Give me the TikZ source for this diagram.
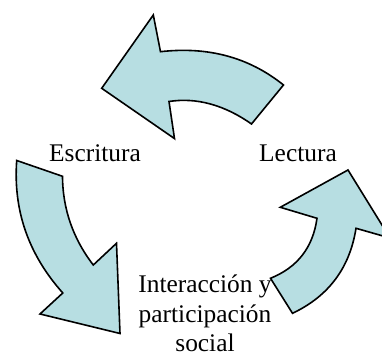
\documentclass[tikz,border=0pt]{standalone}
\usepackage{fontspec}
\setmainfont{Liberation Serif}
\definecolor{cyclefill}{RGB}{183,222,226}

\begin{document}
\begin{tikzpicture}[
    x=0.5pt, y=-0.5pt,
    cyclearrow/.style={draw=black, fill=cyclefill, line width=0.8pt, line join=miter},
    stagetext/.style={align=center, inner sep=0pt, font=\fontsize{12.7}{14.8}\selectfont},
    ]
    \useasboundingbox (0,0) rectangle (382,356);
    \clip (0,0) rectangle (382,356);

    % Arrows
    \path[cyclearrow] (283.5,85) .. controls (249,57.3) and (208,46.3) .. (160.5,51.7)
        -- (153.3,15) -- (101.7,88.3) -- (174.5,138.6) -- (169,101.5)
        .. controls (196.3,97.3) and (224,104.7) .. (251.5,124) -- cycle;
    \path[cyclearrow] (16.7,160.5) .. controls (13.1,210.5) and (28.4,254.4) .. (62.8,293)
        -- (40,314) -- (120,333.5) -- (116.5,243.3) -- (93.3,265)
        .. controls (73,238.7) and (62.7,208.9) .. (62.5,176.3) -- cycle;
    \path[cyclearrow] (270.5,278.3) -- (292.5,313.3)
        .. controls (328.7,296.2) and (349.8,267.8) .. (356,228.3)
        -- (390,238) -- (348,170) -- (280.3,207.3) -- (317,218.3)
        .. controls (313,247.4) and (297.5,267.4) .. cycle;

    % Labels
    \node (ESC) [stagetext, anchor=base] at (95,162) {Escritura};
    \node (LEC) [stagetext, anchor=base] at (298,162) {Lectura};
    \node (INT) [stagetext, anchor=base] at (205,352) {Interacción y\\participación\\social};
\end{tikzpicture}
\end{document}
